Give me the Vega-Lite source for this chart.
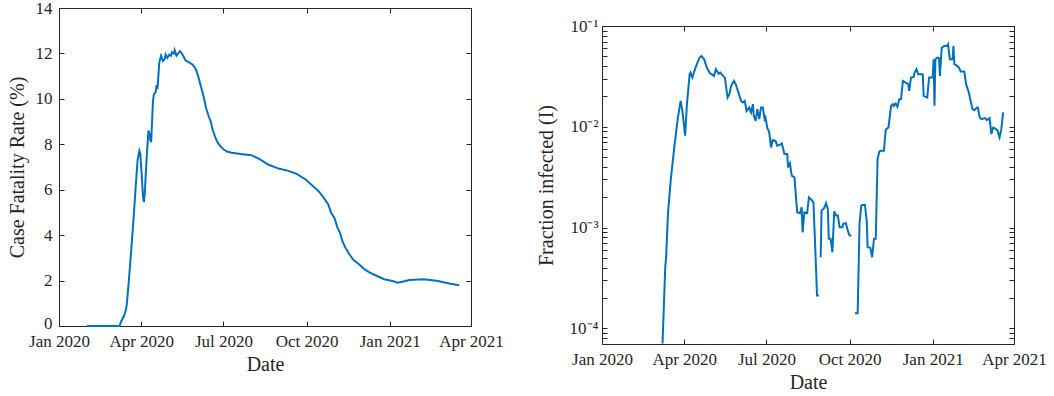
{
  "$schema": "https://vega.github.io/schema/vega-lite/v6.json",
  "padding": {"left": 7, "top": -1, "right": 0, "bottom": 0},
  "config": {
    "view": {"stroke": null},
    "font": "Liberation Serif",
    "axis": {
      "grid": false,
      "domainColor": "#262626",
      "tickColor": "#262626",
      "labelColor": "#262626",
      "titleColor": "#262626",
      "labelFont": "Liberation Serif",
      "titleFont": "Liberation Serif",
      "labelFontSize": 17,
      "titleFontSize": 20,
      "titleFontWeight": "normal",
      "tickSize": -5,
      "domainWidth": 1,
      "tickWidth": 1,
      "labelFlush": false,
      "labelOverlap": false
    }
  },
  "datasets": {
    "cfr": [
      {"d": "2020-02-01", "v": 0}, {"d": "2020-02-15", "v": 0}, {"d": "2020-03-01", "v": 0}, {"d": "2020-03-08", "v": 0},
      {"d": "2020-03-10", "v": 0.22}, {"d": "2020-03-13", "v": 0.45}, {"d": "2020-03-15", "v": 0.7}, {"d": "2020-03-16", "v": 0.95},
      {"d": "2020-03-18", "v": 1.84}, {"d": "2020-03-20", "v": 2.85}, {"d": "2020-03-22", "v": 3.9}, {"d": "2020-03-24", "v": 5.0},
      {"d": "2020-03-26", "v": 6.2}, {"d": "2020-03-28", "v": 7.3}, {"d": "2020-03-30", "v": 7.72}, {"d": "2020-03-31", "v": 7.6},
      {"d": "2020-04-01", "v": 7.0}, {"d": "2020-04-03", "v": 5.7}, {"d": "2020-04-04", "v": 5.45}, {"d": "2020-04-05", "v": 5.9},
      {"d": "2020-04-07", "v": 7.4}, {"d": "2020-04-09", "v": 8.6}, {"d": "2020-04-10", "v": 8.5}, {"d": "2020-04-11", "v": 8.2},
      {"d": "2020-04-12", "v": 8.1}, {"d": "2020-04-14", "v": 9.9}, {"d": "2020-04-15", "v": 10.2}, {"d": "2020-04-17", "v": 10.3},
      {"d": "2020-04-18", "v": 10.6}, {"d": "2020-04-19", "v": 10.45}, {"d": "2020-04-21", "v": 11.6}, {"d": "2020-04-22", "v": 11.75},
      {"d": "2020-04-23", "v": 11.9}, {"d": "2020-04-25", "v": 11.66}, {"d": "2020-04-27", "v": 11.75}, {"d": "2020-04-28", "v": 11.95},
      {"d": "2020-04-30", "v": 11.8}, {"d": "2020-05-02", "v": 11.95}, {"d": "2020-05-04", "v": 11.9}, {"d": "2020-05-05", "v": 12.05},
      {"d": "2020-05-07", "v": 12.0}, {"d": "2020-05-08", "v": 12.15}, {"d": "2020-05-10", "v": 11.9}, {"d": "2020-05-12", "v": 12.0},
      {"d": "2020-05-14", "v": 12.1}, {"d": "2020-05-16", "v": 12.0}, {"d": "2020-05-18", "v": 11.85}, {"d": "2020-05-20", "v": 11.7},
      {"d": "2020-05-22", "v": 11.65}, {"d": "2020-05-25", "v": 11.58}, {"d": "2020-05-28", "v": 11.5}, {"d": "2020-05-30", "v": 11.4},
      {"d": "2020-06-01", "v": 11.25}, {"d": "2020-06-03", "v": 11.0}, {"d": "2020-06-06", "v": 10.55}, {"d": "2020-06-09", "v": 10.1},
      {"d": "2020-06-12", "v": 9.56}, {"d": "2020-06-15", "v": 9.2}, {"d": "2020-06-17", "v": 9.0}, {"d": "2020-06-19", "v": 8.65},
      {"d": "2020-06-22", "v": 8.3}, {"d": "2020-06-25", "v": 8.05}, {"d": "2020-06-28", "v": 7.9}, {"d": "2020-07-01", "v": 7.78},
      {"d": "2020-07-05", "v": 7.68}, {"d": "2020-07-10", "v": 7.63}, {"d": "2020-07-20", "v": 7.57}, {"d": "2020-08-01", "v": 7.52},
      {"d": "2020-08-10", "v": 7.35}, {"d": "2020-08-20", "v": 7.1}, {"d": "2020-09-01", "v": 6.92}, {"d": "2020-09-10", "v": 6.84},
      {"d": "2020-09-20", "v": 6.7}, {"d": "2020-09-30", "v": 6.45}, {"d": "2020-10-07", "v": 6.2}, {"d": "2020-10-14", "v": 5.95},
      {"d": "2020-10-20", "v": 5.65}, {"d": "2020-10-25", "v": 5.35}, {"d": "2020-10-28", "v": 5.0}, {"d": "2020-11-01", "v": 4.75},
      {"d": "2020-11-04", "v": 4.35}, {"d": "2020-11-07", "v": 4.1}, {"d": "2020-11-10", "v": 3.7}, {"d": "2020-11-13", "v": 3.45},
      {"d": "2020-11-17", "v": 3.18}, {"d": "2020-11-22", "v": 2.9}, {"d": "2020-11-28", "v": 2.72}, {"d": "2020-12-04", "v": 2.5},
      {"d": "2020-12-10", "v": 2.35}, {"d": "2020-12-18", "v": 2.2}, {"d": "2020-12-26", "v": 2.06}, {"d": "2021-01-04", "v": 1.98},
      {"d": "2021-01-10", "v": 1.91}, {"d": "2021-01-15", "v": 1.95}, {"d": "2021-01-23", "v": 2.02}, {"d": "2021-02-07", "v": 2.06},
      {"d": "2021-02-22", "v": 1.99}, {"d": "2021-03-08", "v": 1.87}, {"d": "2021-03-19", "v": 1.79}
    ],
    "inf": [
      {"d": "2020-03-08", "v": 0.0000708}, {"d": "2020-03-11", "v": 0.000405}, {"d": "2020-03-12", "v": 0.000508}, {"d": "2020-03-14", "v": 0.00137},
      {"d": "2020-03-17", "v": 0.00292}, {"d": "2020-03-21", "v": 0.00624}, {"d": "2020-03-25", "v": 0.01236}, {"d": "2020-03-28", "v": 0.01807},
      {"d": "2020-03-30", "v": 0.01439}, {"d": "2020-04-02", "v": 0.00815}, {"d": "2020-04-04", "v": 0.01679}, {"d": "2020-04-07", "v": 0.03327},
      {"d": "2020-04-08", "v": 0.03451}, {"d": "2020-04-10", "v": 0.03076}, {"d": "2020-04-12", "v": 0.03532}, {"d": "2020-04-15", "v": 0.04178},
      {"d": "2020-04-18", "v": 0.04853}, {"d": "2020-04-20", "v": 0.05047}, {"d": "2020-04-23", "v": 0.04677}, {"d": "2020-04-26", "v": 0.03864},
      {"d": "2020-04-29", "v": 0.03451}, {"d": "2020-05-01", "v": 0.03327}, {"d": "2020-05-04", "v": 0.03199}, {"d": "2020-05-06", "v": 0.03724},
      {"d": "2020-05-09", "v": 0.03373}, {"d": "2020-05-11", "v": 0.03451}, {"d": "2020-05-14", "v": 0.03199}, {"d": "2020-05-16", "v": 0.03076},
      {"d": "2020-05-19", "v": 0.0195}, {"d": "2020-05-21", "v": 0.02109}, {"d": "2020-05-23", "v": 0.02547}, {"d": "2020-05-26", "v": 0.02851},
      {"d": "2020-05-28", "v": 0.02649}, {"d": "2020-05-31", "v": 0.02188}, {"d": "2020-06-03", "v": 0.01807}, {"d": "2020-06-05", "v": 0.01742},
      {"d": "2020-06-07", "v": 0.01807}, {"d": "2020-06-09", "v": 0.01439}, {"d": "2020-06-12", "v": 0.01552}, {"d": "2020-06-14", "v": 0.01387},
      {"d": "2020-06-16", "v": 0.01679}, {"d": "2020-06-17", "v": 0.01285}, {"d": "2020-06-19", "v": 0.01146}, {"d": "2020-06-21", "v": 0.01496},
      {"d": "2020-06-23", "v": 0.01191}, {"d": "2020-06-25", "v": 0.01552}, {"d": "2020-06-27", "v": 0.01552}, {"d": "2020-06-29", "v": 0.01191},
      {"d": "2020-06-30", "v": 0.01236}, {"d": "2020-07-02", "v": 0.00971}, {"d": "2020-07-04", "v": 0.0089}, {"d": "2020-07-05", "v": 0.00755},
      {"d": "2020-07-06", "v": 0.00624}, {"d": "2020-07-08", "v": 0.00738}, {"d": "2020-07-11", "v": 0.00726}, {"d": "2020-07-13", "v": 0.00649},
      {"d": "2020-07-16", "v": 0.00664}, {"d": "2020-07-18", "v": 0.00684}, {"d": "2020-07-21", "v": 0.00537}, {"d": "2020-07-24", "v": 0.00537},
      {"d": "2020-07-25", "v": 0.00395}, {"d": "2020-07-27", "v": 0.00434}, {"d": "2020-07-29", "v": 0.00327}, {"d": "2020-08-01", "v": 0.00315},
      {"d": "2020-08-04", "v": 0.001416}, {"d": "2020-08-07", "v": 0.001387}, {"d": "2020-08-09", "v": 0.001589}, {"d": "2020-08-10", "v": 0.000897},
      {"d": "2020-08-12", "v": 0.001416}, {"d": "2020-08-15", "v": 0.001387}, {"d": "2020-08-17", "v": 0.001995}, {"d": "2020-08-20", "v": 0.001879},
      {"d": "2020-08-22", "v": 0.001778}, {"d": "2020-08-24", "v": 0.000638}, {"d": "2020-08-26", "v": 0.000212}, {"d": "2020-08-28", "v": 0.000212},
      {"d": "2020-08-29", "v": null},
      {"d": "2020-08-30", "v": 0.000508}, {"d": "2020-08-31", "v": 0.001472}, {"d": "2020-09-03", "v": 0.001567}, {"d": "2020-09-05", "v": 0.001742},
      {"d": "2020-09-07", "v": 0.001531}, {"d": "2020-09-08", "v": 0.000773}, {"d": "2020-09-10", "v": 0.000773}, {"d": "2020-09-12", "v": 0.000569},
      {"d": "2020-09-14", "v": 0.001449}, {"d": "2020-09-16", "v": 0.001315}, {"d": "2020-09-18", "v": 0.001315}, {"d": "2020-09-20", "v": 0.001007},
      {"d": "2020-09-23", "v": 0.001007}, {"d": "2020-09-24", "v": 0.001089}, {"d": "2020-09-27", "v": 0.001104}, {"d": "2020-09-29", "v": 0.000933},
      {"d": "2020-10-01", "v": 0.000834}, {"d": "2020-10-03", "v": 0.000834},
      {"d": "2020-10-05", "v": null},
      {"d": "2020-10-07", "v": 0.0001416}, {"d": "2020-10-10", "v": 0.0001416}, {"d": "2020-10-12", "v": 0.001089}, {"d": "2020-10-14", "v": 0.001652},
      {"d": "2020-10-15", "v": 0.001679}, {"d": "2020-10-18", "v": 0.001679}, {"d": "2020-10-20", "v": 0.001172}, {"d": "2020-10-21", "v": 0.000638},
      {"d": "2020-10-24", "v": 0.00063}, {"d": "2020-10-26", "v": 0.000508}, {"d": "2020-10-28", "v": 0.000773}, {"d": "2020-10-30", "v": 0.000773},
      {"d": "2020-11-01", "v": 0.00479}, {"d": "2020-11-03", "v": 0.00569}, {"d": "2020-11-05", "v": 0.00578}, {"d": "2020-11-08", "v": 0.00578},
      {"d": "2020-11-10", "v": 0.00933}, {"d": "2020-11-13", "v": 0.00984}, {"d": "2020-11-16", "v": 0.01614}, {"d": "2020-11-18", "v": 0.01679},
      {"d": "2020-11-19", "v": 0.01614}, {"d": "2020-11-21", "v": 0.01702}, {"d": "2020-11-23", "v": 0.01578}, {"d": "2020-11-25", "v": 0.01879},
      {"d": "2020-11-27", "v": 0.01879}, {"d": "2020-11-29", "v": 0.02851}, {"d": "2020-12-02", "v": 0.02748}, {"d": "2020-12-05", "v": 0.02649},
      {"d": "2020-12-06", "v": 0.0227}, {"d": "2020-12-08", "v": 0.03076}, {"d": "2020-12-11", "v": 0.03126}, {"d": "2020-12-12", "v": 0.03451},
      {"d": "2020-12-14", "v": 0.03724}, {"d": "2020-12-16", "v": 0.03327}, {"d": "2020-12-21", "v": 0.03327}, {"d": "2020-12-22", "v": 0.02028},
      {"d": "2020-12-26", "v": 0.0195}, {"d": "2020-12-28", "v": 0.03076}, {"d": "2021-01-01", "v": 0.03076}, {"d": "2021-01-02", "v": 0.04677},
      {"d": "2021-01-03", "v": 0.01614}, {"d": "2021-01-04", "v": 0.04677}, {"d": "2021-01-06", "v": 0.04853}, {"d": "2021-01-08", "v": 0.04786},
      {"d": "2021-01-09", "v": 0.03199}, {"d": "2021-01-11", "v": 0.06095}, {"d": "2021-01-14", "v": 0.06339}, {"d": "2021-01-17", "v": 0.06339},
      {"d": "2021-01-18", "v": 0.06592}, {"d": "2021-01-20", "v": 0.04677}, {"d": "2021-01-23", "v": 0.04677}, {"d": "2021-01-24", "v": 0.06339},
      {"d": "2021-01-25", "v": 0.04178}, {"d": "2021-01-28", "v": 0.04018}, {"d": "2021-01-30", "v": 0.03864}, {"d": "2021-02-01", "v": 0.03532},
      {"d": "2021-02-05", "v": 0.03532}, {"d": "2021-02-07", "v": 0.02649}, {"d": "2021-02-10", "v": 0.02188}, {"d": "2021-02-12", "v": 0.01807},
      {"d": "2021-02-14", "v": 0.01496}, {"d": "2021-02-16", "v": 0.01462}, {"d": "2021-02-19", "v": 0.01552}, {"d": "2021-02-20", "v": 0.01552},
      {"d": "2021-02-22", "v": 0.01236}, {"d": "2021-02-24", "v": 0.01191}, {"d": "2021-02-28", "v": 0.01219}, {"d": "2021-03-02", "v": 0.01164},
      {"d": "2021-03-05", "v": 0.01219}, {"d": "2021-03-07", "v": 0.00847}, {"d": "2021-03-09", "v": 0.00984}, {"d": "2021-03-12", "v": 0.00948},
      {"d": "2021-03-14", "v": 0.00912}, {"d": "2021-03-15", "v": 0.00834}, {"d": "2021-03-16", "v": 0.00783}, {"d": "2021-03-18", "v": 0.00948},
      {"d": "2021-03-20", "v": 0.01387}
    ]
  },
  "spacing": 32,
  "hconcat": [
    {
      "width": 412,
      "height": 318,
      "data": {"name": "cfr"},
      "layer": [
        {
          "mark": {"type": "line", "color": "#0072BD", "strokeWidth": 2},
          "encoding": {
            "x": {
              "field": "d", "type": "temporal",
              "scale": {"type": "utc", "domain": [{"year": 2020, "month": 1, "date": 1, "utc": true}, {"year": 2021, "month": 4, "date": 1, "utc": true}]},
              "axis": {
                "orient": "bottom", "title": "Date", "format": "%b %Y", "labelPadding": 12, "titlePadding": 5,
                "values": [{"year": 2020, "month": 1, "date": 1, "utc": true}, {"year": 2020, "month": 4, "date": 1, "utc": true}, {"year": 2020, "month": 7, "date": 1, "utc": true}, {"year": 2020, "month": 10, "date": 1, "utc": true}, {"year": 2021, "month": 1, "date": 1, "utc": true}, {"year": 2021, "month": 4, "date": 1, "utc": true}]
              }
            },
            "y": {
              "field": "v", "type": "quantitative",
              "scale": {"domain": [0, 14], "nice": false},
              "axis": {
                "orient": "left", "title": "Case Fatality Rate (%)", "values": [0, 2, 4, 6, 8, 10, 12, 14], "labelPadding": 12, "titlePadding": 8,
                "labelOffset": {"condition": {"test": "datum.value == 0", "value": -3}, "value": 0}
              }
            }
          }
        },
        {
          "mark": {"type": "line", "strokeOpacity": 0},
          "encoding": {
            "x": {
              "field": "d", "type": "temporal",
              "axis": {
                "orient": "top", "title": null, "labels": false,
                "values": [{"year": 2020, "month": 1, "date": 1, "utc": true}, {"year": 2020, "month": 4, "date": 1, "utc": true}, {"year": 2020, "month": 7, "date": 1, "utc": true}, {"year": 2020, "month": 10, "date": 1, "utc": true}, {"year": 2021, "month": 1, "date": 1, "utc": true}, {"year": 2021, "month": 4, "date": 1, "utc": true}]
              }
            },
            "y": {
              "field": "v", "type": "quantitative",
              "axis": {"orient": "right", "title": null, "labels": false, "values": [0, 2, 4, 6, 8, 10, 12, 14]}
            }
          }
        }
      ],
      "resolve": {"axis": {"x": "independent", "y": "independent"}}
    },
    {
      "spacing": 0,
      "vconcat": [
        {
          "width": 412,
          "height": 9,
          "data": {"values": []},
          "mark": {"type": "rule", "opacity": 0},
          "encoding": {}
        },
        {
          "width": 412,
          "height": 318,
          "data": {"name": "inf"},
          "layer": [
            {
              "mark": {"type": "line", "color": "#0072BD", "strokeWidth": 2},
              "encoding": {
                "x": {
                  "field": "d", "type": "temporal",
                  "scale": {"type": "utc", "domain": [{"year": 2020, "month": 1, "date": 1, "utc": true}, {"year": 2021, "month": 4, "date": 1, "utc": true}]},
                  "axis": {
                    "orient": "bottom", "title": "Date", "format": "%b %Y", "labelPadding": 12, "titlePadding": 5,
                    "values": [{"year": 2020, "month": 1, "date": 1, "utc": true}, {"year": 2020, "month": 4, "date": 1, "utc": true}, {"year": 2020, "month": 7, "date": 1, "utc": true}, {"year": 2020, "month": 10, "date": 1, "utc": true}, {"year": 2021, "month": 1, "date": 1, "utc": true}, {"year": 2021, "month": 4, "date": 1, "utc": true}]
                  }
                },
                "y": {
                  "field": "v", "type": "quantitative",
                  "scale": {"type": "log", "domain": [0.00007, 0.1], "nice": false},
                  "axis": {
                    "orient": "left", "title": "Fraction infected (I)", "labelPadding": 9, "titlePadding": 13,
                    "values": [0.00008, 0.00009, 0.0001, 0.0002, 0.0003, 0.0004, 0.0005, 0.0006, 0.0007, 0.0008, 0.0009, 0.001, 0.002, 0.003, 0.004, 0.005, 0.006, 0.007, 0.008, 0.009, 0.01, 0.02, 0.03, 0.04, 0.05, 0.06, 0.07, 0.08, 0.09, 0.1],
                    "labelExpr": "datum.value == 0.1 ? '10⁻¹' : datum.value == 0.01 ? '10⁻²' : datum.value == 0.001 ? '10⁻³' : datum.value == 0.0001 ? '10⁻⁴' : ''"
                  }
                }
              }
            },
            {
              "mark": {"type": "line", "strokeOpacity": 0},
              "encoding": {
                "x": {
                  "field": "d", "type": "temporal",
                  "axis": {
                    "orient": "top", "title": null, "labels": false,
                    "values": [{"year": 2020, "month": 1, "date": 1, "utc": true}, {"year": 2020, "month": 4, "date": 1, "utc": true}, {"year": 2020, "month": 7, "date": 1, "utc": true}, {"year": 2020, "month": 10, "date": 1, "utc": true}, {"year": 2021, "month": 1, "date": 1, "utc": true}, {"year": 2021, "month": 4, "date": 1, "utc": true}]
                  }
                },
                "y": {
                  "field": "v", "type": "quantitative",
                  "axis": {
                    "orient": "right", "title": null, "labels": false,
                    "values": [0.00008, 0.00009, 0.0001, 0.0002, 0.0003, 0.0004, 0.0005, 0.0006, 0.0007, 0.0008, 0.0009, 0.001, 0.002, 0.003, 0.004, 0.005, 0.006, 0.007, 0.008, 0.009, 0.01, 0.02, 0.03, 0.04, 0.05, 0.06, 0.07, 0.08, 0.09, 0.1]
                  }
                }
              }
            }
          ],
          "resolve": {"axis": {"x": "independent", "y": "independent"}}
        }
      ]
    }
  ]
}
